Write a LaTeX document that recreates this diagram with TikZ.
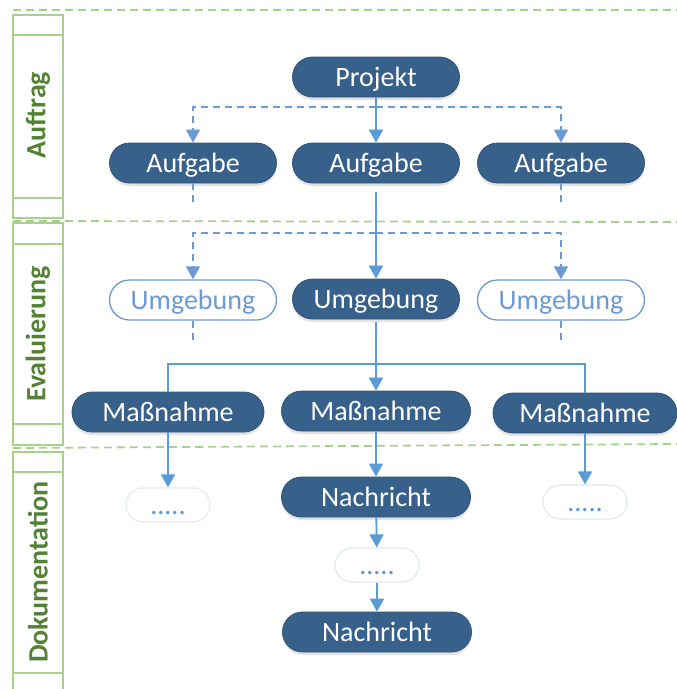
\documentclass[tikz,border=0pt]{standalone}
\usepackage{fontspec}
\setmainfont{Carlito}
\usetikzlibrary{arrows.meta,shadows}

\definecolor{nodeblue}{HTML}{37618A}
\definecolor{nodeedge}{HTML}{2F5475}
\definecolor{linkblue}{HTML}{5B9BD5}
\definecolor{dashblue}{HTML}{6C9BD2}
\definecolor{bandgreen}{HTML}{A9D18E}
\definecolor{labelgreen}{HTML}{548235}
\definecolor{faintedge}{HTML}{E1E9F3}

\tikzset{
  pill/.style={rectangle, rounded corners=20pt, minimum width=167pt,
    minimum height=40pt, inner sep=0pt,
    font=\fontsize{28}{33}\selectfont, text height=18pt, text depth=0pt},
  darkpill/.style={pill, fill=nodeblue, draw=nodeedge, line width=0.8pt,
    text=white,
    drop shadow={shadow xshift=0pt, shadow yshift=-3pt, opacity=0.18, fill=black!60}},
  lightpill/.style={pill, fill=white, draw=dashblue, line width=1.3pt, text=dashblue},
  ghostpill/.style={pill, rounded corners=17pt, minimum width=84pt,
    minimum height=34pt, fill=white, draw=faintedge, line width=1.2pt, text=linkblue},
  link/.style={draw=linkblue, line width=1.8pt},
  arr/.style={link, -{Triangle[width=14pt,length=13pt]}},
  dlink/.style={draw=dashblue, line width=1.8pt, dash pattern=on 7pt off 5pt},
  darr/.style={dlink, -{Triangle[width=14pt,length=13pt]}},
  band/.style={draw=bandgreen, line width=1.5pt},
  gdash/.style={draw=bandgreen, line width=1.8pt, dash pattern=on 8pt off 5pt},
  bandlabel/.style={rotate=90, text=labelgreen,
    font=\bfseries\fontsize{28}{33}\selectfont, inner sep=0pt}
}

\begin{document}
\begin{tikzpicture}[x=1pt, y=-1pt]
\useasboundingbox (0,0) rectangle (677,689);
\clip (0,0) rectangle (677,689);

% phase separators
\draw[gdash] (13,10) -- (677,10);
\draw[gdash] (13,221) -- (677,222);
\draw[gdash] (13,448) -- (677,444);

% phase bands on the left
\draw[band] (13,15) rectangle (63,218);
\draw[band] (13,35) -- (63,35);
\draw[band] (13,198) -- (63,198);
\draw[band] (13,223) rectangle (63,445);
\draw[band] (13,244) -- (63,244);
\draw[band] (13,424) -- (63,424);
\draw[band] (13,452) rectangle (63,700);
\draw[band] (13,472) -- (63,472);
\draw[band] (13,673) -- (63,673);

\node[bandlabel] (lauftrag) at (38,115) {Auftrag};
\node[bandlabel] (leval) at (38,334) {Evaluierung};
\node[bandlabel] (ldoku) at (38,572) {Dokumentation};

% nodes
\node[darkpill] (pj) at (376,77) {Projekt};
\node[darkpill] (a1) at (193,163) {Aufgabe};
\node[darkpill] (a2) at (376,163) {Aufgabe};
\node[darkpill] (a3) at (561,163) {Aufgabe};
\node[lightpill] (u1) at (193,300) {Umgebung};
\node[darkpill] (u2) at (376,299) {Umgebung};
\node[lightpill] (u3) at (561,300) {Umgebung};
\node[darkpill, minimum width=192pt] (m1) at (168,412) {Maßnahme};
\node[darkpill, minimum width=189pt] (m2) at (376,411) {Maßnahme};
\node[darkpill, minimum width=184pt] (m3) at (585,413) {Maßnahme};
\node[ghostpill] (g1) at (168,505) {.....};
\node[darkpill, minimum width=189pt] (n1) at (376,497) {Nachricht};
\node[ghostpill] (g2) at (377,565) {.....};
\node[darkpill, minimum width=189pt] (n2) at (377,632) {Nachricht};
\node[ghostpill] (g3) at (585,502) {.....};

% task level
\coordinate (hubA) at (376,107);
\draw[arr] (pj) -- (a2);
\draw[darr] (hubA) -| (a1.north);
\draw[darr] (hubA) -| (a3.north);
\draw[dlink] (a1.south) -- ++(0,22) coordinate (a1tail);
\draw[dlink] (a3.south) -- ++(0,22) coordinate (a3tail);

% environment level
\coordinate (hubU) at (376,233);
\draw[arr, shorten <=9pt] (a2) -- (u2);
\draw[darr] (hubU) -| (u1.north);
\draw[darr] (hubU) -| (u3.north);
\draw[dlink] (u1.south) -- ++(0,23) coordinate (u1tail);
\draw[dlink] (u3.south) -- ++(0,23) coordinate (u3tail);

% measures
\coordinate (hubM) at (376,364);
\draw[arr, shorten <=3pt] (u2) -- (m2);
\draw[link] (hubM) -| (m1.north);
\draw[link] (hubM) -| (m3.north);

% documentation
\draw[arr] (m1) -- (g1);
\draw[arr] (m3) -- (g3);
\draw[arr] (m2) -- (n1);
\draw[arr] (n1) -- (g2);
\draw[arr] (g2) -- (n2);
\end{tikzpicture}
\end{document}
